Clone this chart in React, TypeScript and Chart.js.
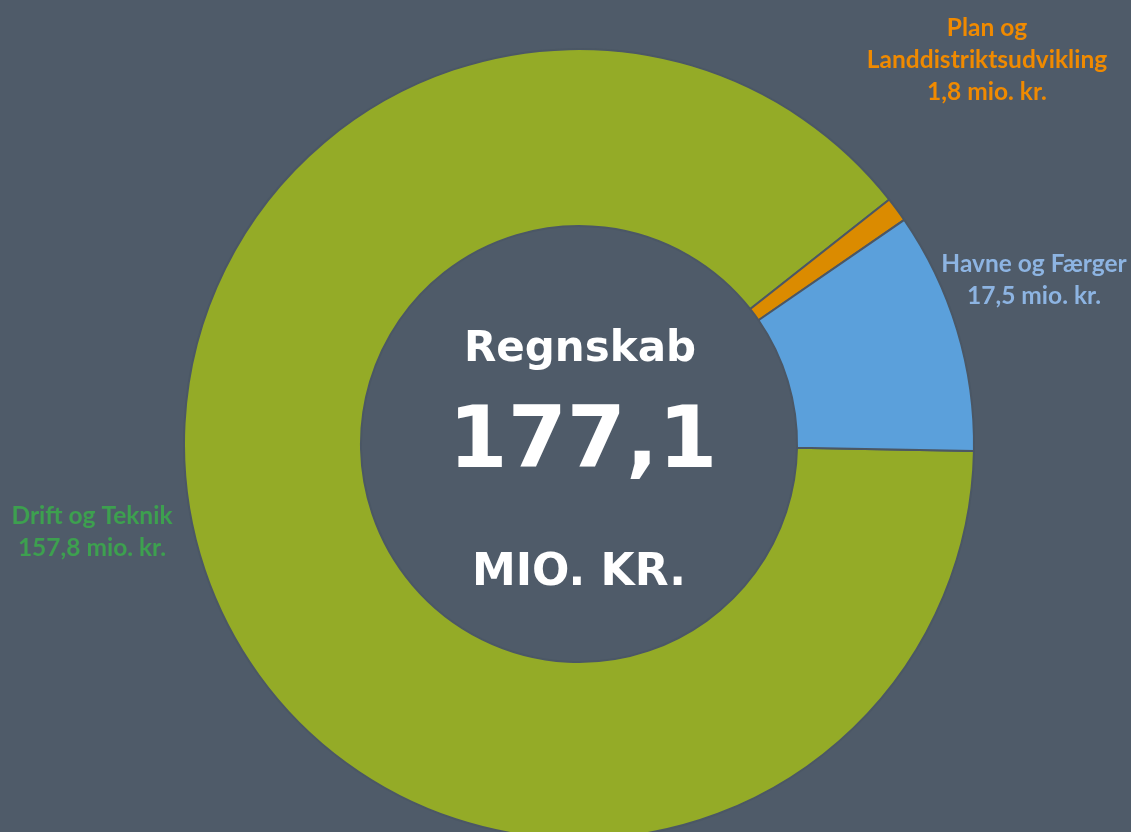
import React, { useEffect, useRef } from "react";
import { Chart, registerables } from "chart.js";

Chart.register(...registerables);

const categories = ["Drift og Teknik", "Plan og Landdistriktsudvikling", "Havne og Færger"];
const values = [157.8, 1.8, 17.5];
const sliceColors = ["#94AB27", "#DB8B00", "#5BA0DB"];
const labelColors = ["#3DA04F", "#F08A00", "#8DB4E2"];
const labelLines = [
  ["Drift og Teknik", "157,8 mio. kr."],
  ["Plan og", "Landdistriktsudvikling", "1,8 mio. kr."],
  ["Havne og Færger", "17,5 mio. kr."],
];
const centerLines = ["Regnskab", "177,1", "MIO. KR."];

const BG = "#4F5B69";

const labelPos = [
  { x: 92, y: 516 },
  { x: 987, y: 28 },
  { x: 1034, y: 264 },
];

const textPlugin = {
  id: "texts",
  afterDraw(chart: any) {
    const ctx = chart.ctx;
    const meta = chart.getDatasetMeta(0);
    const arc = meta.data[0];
    const cx = arc.x;
    const cy = arc.y;
    ctx.save();
    ctx.textAlign = "center";
    ctx.textBaseline = "middle";
    ctx.fillStyle = "#FFFFFF";
    ctx.font = "bold 42px 'DejaVu Sans'";
    ctx.fillText(centerLines[0], cx + 1, cy - 94);
    ctx.font = "bold 85px 'DejaVu Sans'";
    ctx.fillText(centerLines[1], cx + 4, cy + 1);
    ctx.font = "bold 44px 'DejaVu Sans'";
    ctx.fillText(centerLines[2], cx, cy + 130);

    ctx.font = "bold 24.5px Lato";
    labelLines.forEach((lines, i) => {
      ctx.fillStyle = labelColors[i];
      lines.forEach((t, j) => {
        ctx.fillText(t, labelPos[i].x, labelPos[i].y + j * 32);
      });
    });
    ctx.restore();
  },
};

export default function App() {
  const ref = useRef<HTMLCanvasElement>(null);
  useEffect(() => {
    document.body.style.margin = "0";
    document.body.style.background = BG;
    const chart = new Chart(ref.current!, {
      type: "doughnut",
      data: {
        labels: categories,
        datasets: [
          {
            data: values,
            backgroundColor: sliceColors,
            borderColor: "#4B5765",
            borderWidth: 2,
            hoverOffset: 0,
          },
        ],
      },
      options: {
        animation: false,
        responsive: false,
        rotation: 91,
        cutout: "55.2%",
        radius: 395,
        layout: { padding: { left: 27, top: 56, right: 0, bottom: 0 } },
        plugins: {
          legend: { display: false },
          tooltip: { enabled: false },
        },
      },
      plugins: [textPlugin],
    });
    return () => chart.destroy();
  }, []);
  return (
    <div style={{ width: 1131, height: 832, background: BG, position: "relative" }}>
      <canvas ref={ref} width={1131} height={832} style={{ display: "block" }} />
    </div>
  );
}
